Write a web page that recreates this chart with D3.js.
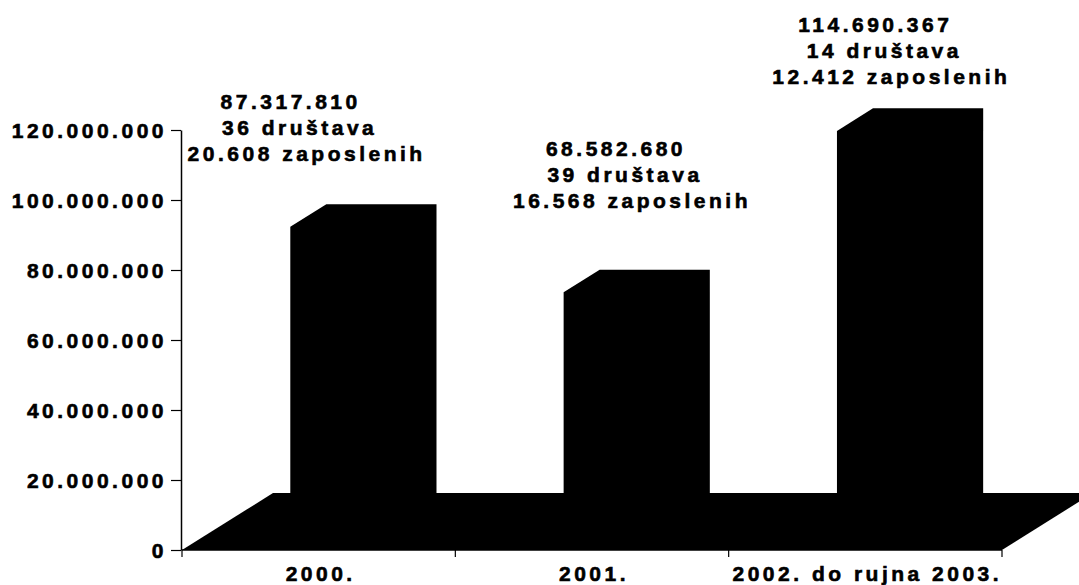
<!DOCTYPE html>
<html>
<head>
<meta charset="utf-8">
<script src="https://cdn.jsdelivr.net/npm/d3@7"></script>
<style>
  body { margin: 0; background: #fff; }
  text { font-family: "Liberation Sans", Arial, sans-serif; font-weight: bold; font-size: 21px; letter-spacing: 3.5px; fill: #000; stroke: #000; stroke-width: 0.6px; }
</style>
</head>
<body>
<div class="chart"></div>
<script>
// data
let categories = ["2000.", "2001.", "2002. do rujna 2003."];
let amounts = [87317810, 68582680, 114690367];
let companies = ["36 društava", "39 društava", "14 društava"];
let employees = ["20.608 zaposlenih", "16.568 zaposlenih", "12.412 zaposlenih"];
let yTicks = [0, 20000000, 40000000, 60000000, 80000000, 100000000, 120000000];

// layout
let svgWidth = 1079;
let svgHeight = 585;
let axisX = 181, x0 = 182, x1 = 1002;
let yBottom = 550, yTop = 130;
let depthX = 91, depthY = 57;       // floor depth
let front = 0.31, back = 0.706;     // bar position within depth
// manual placement of the data labels (relative to band centre / value)
let labelNudge = [[-19, -83], [33, -102], [19, -65]];
let lineShift = [-9, 0, 7];

let locale = d3.formatLocale({decimal: ",", thousands: ".", grouping: [3], currency: ["", ""]});
let fmt = locale.format(",");

let svg = d3.select(".chart")
  .append("svg")
  .attr("width", svgWidth)
  .attr("height", svgHeight);

let x = d3.scaleBand()
  .domain(categories)
  .range([x0, x1])
  .paddingInner(0.586)
  .paddingOuter(0.293);

let y = d3.scaleLinear()
  .domain([0, 120000000])
  .range([yBottom, yTop]);

// floor
svg.append("path")
  .attr("d", d3.line()([
    [x0, yBottom], [x1, yBottom],
    [x1 + depthX, yBottom - depthY], [x0 + depthX, yBottom - depthY]
  ]) + "Z")
  .attr("fill", "#000");

// bars (front, top and side all solid black)
let fx = depthX * front, fy = depthY * front;
let bx = depthX * back, by = depthY * back;
svg.selectAll(".bar")
  .data(amounts)
  .enter().append("path")
  .attr("class", "bar")
  .attr("fill", "#000")
  .attr("d", function(d, i) {
    let left = x(categories[i]) + fx;
    let right = left + x.bandwidth() - 3;
    let top = y(d) - fy;
    let dx = bx - fx, dy = by - fy;
    return d3.line()([
      [left, yBottom - fy], [left, top], [left + dx, top - dy],
      [right + dx, top - dy], [right + dx, yBottom - by], [right, yBottom - fy]
    ]) + "Z";
  });

// y axis
let leftAxis = d3.axisLeft(y)
  .tickValues(yTicks)
  .tickFormat(fmt)
  .tickSize(10)
  .tickSizeOuter(0)
  .tickPadding(4);

let gy = svg.append("g")
  .attr("transform", `translate(${axisX}, 0)`)
  .call(leftAxis);
gy.select(".domain").attr("stroke", "#000").attr("stroke-width", 1.5);
gy.selectAll(".tick line").attr("stroke", "#000").attr("stroke-width", 1.2);
gy.selectAll(".tick text")
  .attr("dy", "0.36em");
gy.attr("font-size", null).attr("font-family", null);

// x axis line and band boundary ticks
svg.append("line")
  .attr("x1", x0).attr("x2", x1)
  .attr("y1", yBottom).attr("y2", yBottom)
  .attr("stroke", "#000").attr("stroke-width", 1.5);

let bounds = d3.range(categories.length + 1).map(function(i) { return x0 + i * x.step(); });
svg.selectAll(".xtick")
  .data(bounds)
  .enter().append("line")
  .attr("class", "xtick")
  .attr("x1", function(d) { return d; }).attr("x2", function(d) { return d; })
  .attr("y1", yBottom).attr("y2", yBottom + 7)
  .attr("stroke", "#000").attr("stroke-width", 1.2);

svg.selectAll(".xlabel")
  .data(categories)
  .enter().append("text")
  .attr("class", "xlabel")
  .attr("x", function(d) { return x(d) + x.bandwidth() / 2 + 2; })
  .attr("y", 581)
  .style("text-anchor", "middle")
  .text(function(d) { return d; });

// data labels
let labels = svg.selectAll(".vlabel")
  .data(amounts)
  .enter().append("text")
  .attr("class", "vlabel")
  .style("text-anchor", "middle");

labels.each(function(d, i) {
  let cx = x(categories[i]) + x.bandwidth() / 2 + labelNudge[i][0];
  let base = y(d) + labelNudge[i][1];
  let lines = [fmt(d), companies[i], employees[i]];
  d3.select(this).selectAll("tspan")
    .data(lines)
    .enter().append("tspan")
    .attr("x", function(t, j) { return cx + lineShift[j]; })
    .attr("y", function(t, j) { return base - (2 - j) * 26; })
    .text(function(t) { return t; });
});
</script>
</body>
</html>
